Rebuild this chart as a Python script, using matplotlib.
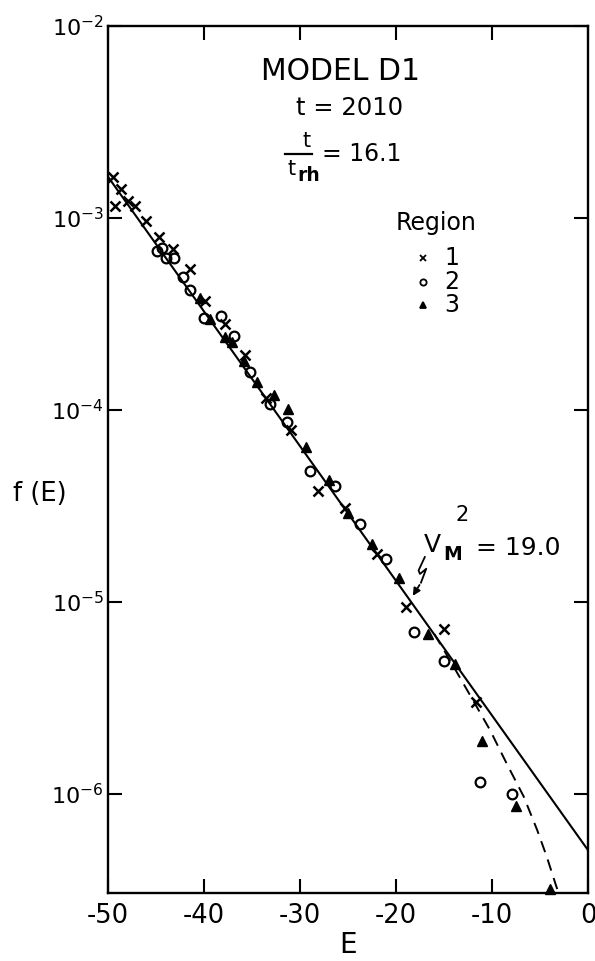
import math
import matplotlib
matplotlib.use("Agg")
import matplotlib.pyplot as plt
from matplotlib.lines import Line2D
from matplotlib.ticker import FixedLocator, FuncFormatter, NullLocator

plt.rcParams['font.family'] = ['DejaVu Sans']
plt.rcParams['axes.unicode_minus'] = False
plt.rcParams['mathtext.fontset'] = 'custom'
plt.rcParams['mathtext.rm'] = 'DejaVu Sans'

# region 1 (crosses)
e1 = [-49.5, -48.6, -49.3, -47.9, -47.2, -46.0, -44.7, -43.2, -41.5, -39.9,
      -37.8, -35.7, -33.5, -30.9, -28.1, -25.3, -22.0, -19.0, -15.0, -11.7]
f1 = [1.63e-3, 1.41e-3, 1.15e-3, 1.22e-3, 1.15e-3, 9.6e-4, 8.0e-4, 6.9e-4, 5.4e-4, 3.7e-4,
      2.8e-4, 1.93e-4, 1.15e-4, 7.9e-5, 3.8e-5, 3.07e-5, 1.78e-5, 9.4e-6, 7.2e-6, 3.0e-6]

# region 2 (circles)
e2 = [-44.9, -44.4, -44.0, -43.1, -42.2, -41.5, -40.0, -38.2, -36.9, -35.2,
      -33.1, -31.4, -29.0, -26.4, -23.8, -21.0, -18.1, -15.0, -11.3, -7.9]
f2 = [6.7e-4, 7.0e-4, 6.2e-4, 6.2e-4, 4.9e-4, 4.2e-4, 3.0e-4, 3.1e-4, 2.43e-4, 1.58e-4,
      1.07e-4, 8.7e-5, 4.8e-5, 4.0e-5, 2.56e-5, 1.68e-5, 6.95e-6, 4.9e-6, 1.15e-6, 1.0e-6]

# region 3 (triangles)
e3 = [-40.4, -39.4, -37.8, -37.1, -35.8, -34.5, -32.7, -31.2, -29.4, -27.0,
      -25.0, -22.5, -19.7, -16.7, -13.9, -11.0, -7.5, -4.0]
f3 = [3.85e-4, 2.97e-4, 2.41e-4, 2.27e-4, 1.79e-4, 1.40e-4, 1.19e-4, 1.01e-4, 6.4e-5, 4.3e-5,
      2.92e-5, 2.01e-5, 1.34e-5, 6.8e-6, 4.75e-6, 1.88e-6, 8.7e-7, 3.2e-7]

# straight fit (vM^2 = 19.0)
line_e = [-50, 0]
line_f = [1.64e-3, 5.1e-7]

# dashed curve
dash_e = [-16.0, -14.4, -12.0, -10.2, -8.5, -6.7, -5.3, -4.3, -3.3, -3.0]
dash_f = [6.8e-6, 4.99e-6, 3.09e-6, 2.15e-6, 1.45e-6, 9.7e-7, 6.5e-7, 4.72e-7, 3.3e-7, 3.0e-7]

xticks = [-50, -40, -30, -20, -10, 0]
yticks = [1e-6, 1e-5, 1e-4, 1e-3, 1e-2]

fig = plt.figure(figsize=(5.95, 9.61), dpi=100)
ax = fig.add_axes([108/595, 68/961, 480/595, 867/961])

ax.plot(line_e, line_f, color='black', lw=1.5)
ax.plot(dash_e, dash_f, color='black', lw=1.4, ls=(0, (6, 4)))

ax.plot(e1, f1, ls='none', marker='x', ms=6.5, mew=1.8, color='black', clip_on=False)
ax.plot(e2, f2, ls='none', marker='o', ms=7, mew=1.6, mfc='none', color='black')
ax.plot(e3, f3, ls='none', marker='^', ms=6.5, color='black', clip_on=False)

ax.set_yscale('log')
ax.set_xlim(-50, 0)
ax.set_ylim(3.05e-7, 1e-2)

ax.xaxis.set_major_locator(FixedLocator(xticks))
ax.yaxis.set_major_locator(FixedLocator(yticks))
ax.yaxis.set_minor_locator(NullLocator())
ax.xaxis.set_major_formatter(FuncFormatter(lambda v, p: '%d' % v))
ax.yaxis.set_major_formatter(FuncFormatter(
    lambda v, p: r'$\mathregular{10^{-%d}}$' % round(-math.log10(v))))
ax.tick_params(which='both', direction='in', top=True, right=True, length=10, width=1.5)
ax.tick_params(axis='x', labelsize=18.5, pad=7)
ax.tick_params(axis='y', labelsize=16, pad=3)
for s in ax.spines.values():
    s.set_linewidth(1.7)

ax.set_xlabel('E', fontsize=20, va='center')
ax.xaxis.set_label_coords(0.5, -0.06)
ax.set_ylabel('f (E)', fontsize=18.5, rotation=0, ha='center', va='center')
ax.yaxis.set_label_coords(-0.142, 0.46)

tr = ax.transAxes
ax.text(0.485, 0.947, 'MODEL D1', transform=tr, fontsize=21.5, ha='center', va='center')
ax.text(0.504, 0.905, 't = 2010', transform=tr, fontsize=17.5, ha='center', va='center')
ax.text(0.413, 0.867, 't', transform=tr, fontsize=15, ha='center', va='center')
ax.add_line(Line2D([0.369, 0.425], [0.852, 0.852], transform=tr, color='black', lw=1.6))
ax.text(0.383, 0.835, 't', transform=tr, fontsize=15, ha='center', va='center')
ax.text(0.418, 0.828, 'rh', transform=tr, fontsize=13.5, ha='center', va='center',
        fontweight='bold')
ax.text(0.446, 0.852, '= 16.1', transform=tr, fontsize=17, ha='left', va='center')

ax.text(0.683, 0.773, 'Region', transform=tr, fontsize=17, ha='center', va='center')
legend_y = [0.732, 0.705, 0.678]
for (m, fill), lab, yy in zip([('x', 'black'), ('o', 'none'), ('^', 'black')],
                              ['1', '2', '3'], legend_y):
    ax.plot([0.656], [yy], marker=m, ms=4.5, mew=1.3, mfc=fill, color='black',
            transform=tr, clip_on=False)
    ax.text(0.717, yy, lab, transform=tr, fontsize=17, ha='center', va='center')

ax.text(0.675, 0.4015, 'V', transform=tr, fontsize=18, ha='center', va='center')
ax.text(0.718, 0.390, 'M', transform=tr, fontsize=13.5, ha='center', va='center',
        fontweight='bold')
ax.text(0.738, 0.436, '2', transform=tr, fontsize=15, ha='center', va='center')
ax.text(0.767, 0.3985, '= 19.0', transform=tr, fontsize=18, ha='left', va='center')

# squiggle pointer
sq_x = [0.660, 0.647, 0.650, 0.663, 0.652]
sq_y = [0.3875, 0.372, 0.368, 0.374, 0.358]
ax.add_line(Line2D(sq_x, sq_y, transform=tr, color='black', lw=1.3))
ax.annotate('', xy=(0.632, 0.340), xytext=(0.652, 0.358), xycoords=tr, textcoords=tr,
            arrowprops=dict(arrowstyle='-|>', color='black', lw=1.3, mutation_scale=11))

fig.savefig('out.png', dpi=100)
